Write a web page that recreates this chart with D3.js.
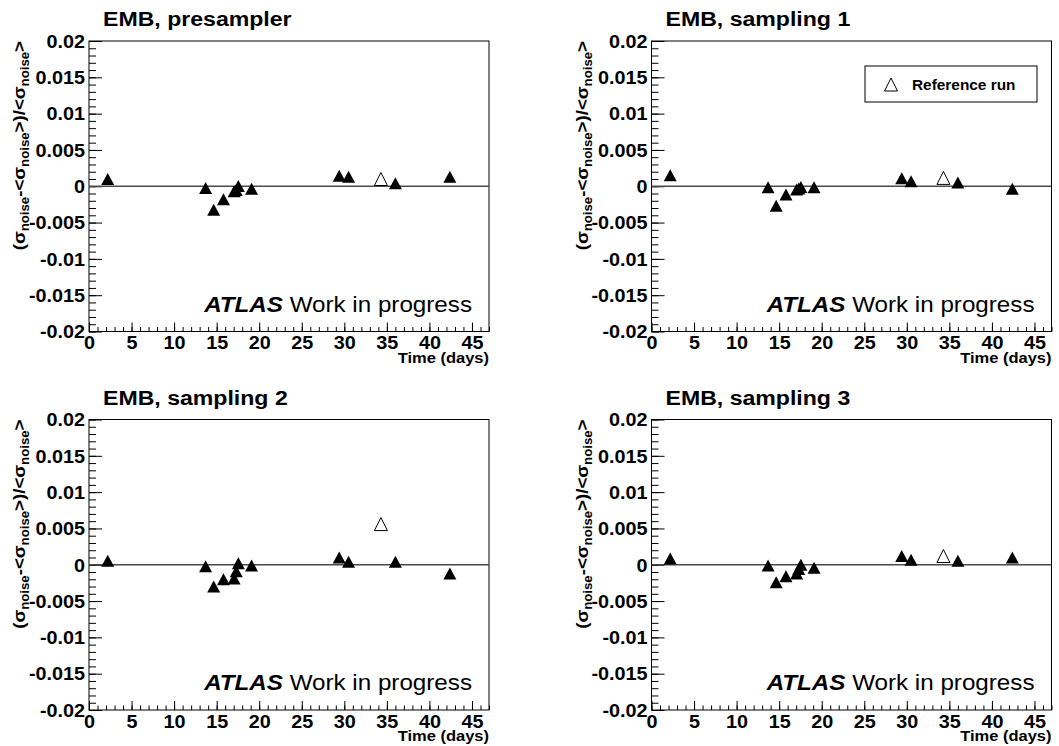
<!DOCTYPE html>
<html>
<head>
<meta charset="utf-8">
<script src="https://cdn.jsdelivr.net/npm/d3@7"></script>
<style>
  html, body { margin: 0; padding: 0; background: #fff; }
  svg { display: block; font-family: "Liberation Sans", Arial, Helvetica, sans-serif; }
</style>
</head>
<body>
<svg id="chart" width="1059" height="746"></svg>
<script>
// Run times (days since start of the period) for the regular runs
const days = [2.2, 13.7, 14.65, 15.8, 17.05, 17.3, 17.55, 19.1, 29.4, 30.5, 36.0, 42.4];
// Day of the reference run
const refDay = 34.3;

// Relative noise deviation per layer, one value per run in `days`
const presampler = [0.0010, -0.00025, -0.00325, -0.0018, -0.0007, -0.0005, 0.00005, -0.00035, 0.00145, 0.0013, 0.0004, 0.0013];
const sampling1  = [0.0015, -0.00015, -0.0027, -0.00115, -0.00045, -0.0003, -0.0001, -0.00015, 0.0011, 0.0007, 0.0005, -0.00035];
const sampling2  = [0.00055, -0.0002, -0.003, -0.002, -0.0019, -0.0009, 0.0002, -0.0001, 0.001, 0.0004, 0.0004, -0.0012];
const sampling3  = [0.00085, -0.0001, -0.0024, -0.0016, -0.0012, -0.0006, 0.0, -0.0004, 0.0012, 0.0007, 0.00055, 0.001];

// Reference-run deviation per layer
const refValues = [0.001, 0.00115, 0.0056, 0.0012];

const panelTitles = ["EMB, presampler", "EMB, sampling 1", "EMB, sampling 2", "EMB, sampling 3"];
const panelSeries = [presampler, sampling1, sampling2, sampling3];

const xMajorTicks = [0, 5, 10, 15, 20, 25, 30, 35, 40, 45];
const yMajorTicks = [-0.02, -0.015, -0.01, -0.005, 0, 0.005, 0.01, 0.015, 0.02];
const yTickLabels = ["-0.02", "-0.015", "-0.01", "-0.005", "0", "0.005", "0.01", "0.015", "0.02"];

const xDomain = [0, 47];
const yDomain = [-0.02, 0.02];

// Layout
const plotW = 400, plotH = 290.5;
const origins = [
  { x: 89, y: 41 }, { x: 651.5, y: 41 },
  { x: 89, y: 419.5 }, { x: 651.5, y: 419.5 }
];
// Text in this canvas is drawn slightly widened
const SX = 1.1;

const svg = d3.select("#chart");

// Triangle marker, centred on its bounding box
function triangle(w, h) {
  return `M0,${-h / 2}L${w / 2},${h / 2}L${-w / 2},${h / 2}Z`;
}

// Place a text at (x, y) with horizontal widening
function placeText(sel, x, y) {
  return sel.attr("transform", `translate(${x},${y}) scale(${SX},1)`);
}

panelSeries.forEach((series, i) => {
  const o = origins[i];
  const g = svg.append("g").attr("transform", `translate(${o.x},${o.y})`);

  const x = d3.scaleLinear().domain(xDomain).range([0, plotW]);
  const y = d3.scaleLinear().domain(yDomain).range([plotH, 0]);

  // Title
  placeText(g.append("text"), 14, -15)
    .attr("font-size", 21).attr("font-weight", "bold")
    .text(panelTitles[i]);

  // Y minor ticks (inside)
  const yMinor = d3.range(-20, 21).map(v => v / 1000);
  g.append("g").attr("class", "y-minor")
    .call(d3.axisRight(y).tickValues(yMinor).tickSize(7).tickFormat(""))
    .call(a => a.select(".domain").remove())
    .selectAll("line").attr("stroke", "#000");

  // Y major ticks with labels on the left
  const yAxis = g.append("g").attr("class", "y-major")
    .call(d3.axisRight(y).tickValues(yMajorTicks).tickSize(13)
      .tickFormat((d, k) => yTickLabels[k]));
  yAxis.select(".domain").remove();
  yAxis.selectAll("line").attr("stroke", "#000");
  yAxis.selectAll("text")
    .attr("x", -4 / SX).attr("dy", "0.35em")
    .attr("transform", `scale(${SX},1)`)
    .attr("text-anchor", "end")
    .attr("font-size", 18).attr("font-weight", "bold")
    .attr("font-family", "Liberation Sans, Arial, sans-serif")
    .attr("fill", "#000");

  // X minor ticks (inside, pointing up)
  const xMinor = d3.range(0, 48);
  g.append("g").attr("transform", `translate(0,${plotH})`)
    .call(d3.axisTop(x).tickValues(xMinor).tickSize(4.5).tickFormat(""))
    .call(a => a.select(".domain").remove())
    .selectAll("line").attr("stroke", "#000");

  // X major ticks with labels below
  const xAxis = g.append("g").attr("transform", `translate(0,${plotH})`)
    .call(d3.axisTop(x).tickValues(xMajorTicks).tickSize(9));
  xAxis.select(".domain").remove();
  xAxis.selectAll("line").attr("stroke", "#000");
  xAxis.selectAll("text")
    .attr("y", 18).attr("dy", 0)
    .attr("transform", `scale(${SX},1)`)
    .attr("font-size", 18).attr("font-weight", "bold")
    .attr("font-family", "Liberation Sans, Arial, sans-serif")
    .attr("fill", "#000");

  // Frame
  g.append("rect")
    .attr("x", 0).attr("y", 0).attr("width", plotW).attr("height", plotH)
    .attr("fill", "none").attr("stroke", "#000").attr("stroke-width", 1);

  // X axis title
  placeText(g.append("text"), plotW, plotH + 31)
    .attr("text-anchor", "end")
    .attr("font-size", 15).attr("font-weight", "bold")
    .text("Time (days)");

  // Y axis title (rotated)
  const yt = g.append("text")
    .attr("transform", `translate(-64,0) rotate(-90) scale(${SX},1)`)
    .attr("text-anchor", "end")
    .attr("font-size", 17).attr("font-weight", "bold");
  const parts = [
    ["(\u03c3", false], ["noise", true], ["-<\u03c3", false], ["noise", true],
    [">)/<\u03c3", false], ["noise", true], [">", false]
  ];
  parts.forEach(([t, sub], k) => {
    const prevSub = k > 0 && parts[k - 1][1];
    const ts = yt.append("tspan").text(t);
    if (sub) ts.attr("font-size", 12).attr("dy", 4);
    else if (prevSub) ts.attr("dy", -4);
  });

  // Zero line
  g.append("line")
    .attr("x1", 0).attr("x2", plotW)
    .attr("y1", y(0)).attr("y2", y(0))
    .attr("stroke", "#4a4a4a").attr("stroke-width", 1.6);

  // Regular runs (filled triangles)
  g.append("g").selectAll("path")
    .data(days.map((d, k) => ({ d, v: series[k] })))
    .join("path")
    .attr("transform", p => `translate(${x(p.d)},${y(p.v)})`)
    .attr("d", triangle(13, 12))
    .attr("fill", "#000");

  // Reference run (open triangle)
  g.append("path")
    .attr("transform", `translate(${x(refDay)},${y(refValues[i])})`)
    .attr("d", triangle(13, 13))
    .attr("fill", "#fff").attr("stroke", "#000").attr("stroke-width", 1);

  // ATLAS label
  const lab = placeText(g.append("text"), 383, 270.5)
    .attr("text-anchor", "end")
    .attr("font-size", 22);
  lab.append("tspan").attr("font-weight", "bold").attr("font-style", "italic").text("ATLAS");
  lab.append("tspan").text(" Work in progress");

  // Legend in the sampling 1 panel
  if (i === 1) {
    const lg = g.append("g").attr("transform", "translate(213.5,25)");
    lg.append("rect").attr("width", 172).attr("height", 36)
      .attr("fill", "#fff").attr("stroke", "#000").attr("stroke-width", 1);
    lg.append("path").attr("transform", "translate(26,18.5)")
      .attr("d", triangle(13, 13))
      .attr("fill", "#fff").attr("stroke", "#000").attr("stroke-width", 1);
    placeText(lg.append("text"), 47, 23.5)
      .attr("font-size", 14).attr("font-weight", "bold")
      .text("Reference run");
  }
});
</script>
</body>
</html>
